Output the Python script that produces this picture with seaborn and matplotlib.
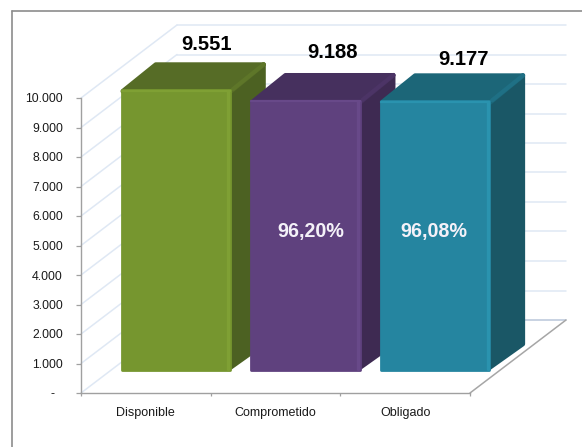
import matplotlib
matplotlib.use('Agg')
import matplotlib.pyplot as plt
from matplotlib.lines import Line2D
from matplotlib.patches import Polygon
from matplotlib.transforms import ScaledTranslation
import pandas as pd
import seaborn as sns

categories = ['Disponible', 'Comprometido', 'Obligado']
values = [9551, 9188, 9177]
value_labels = ['9.551', '9.188', '9.177']
pct_labels = ['', '96,20%', '96,08%']
y_ticks = [0, 1000, 2000, 3000, 4000, 5000, 6000, 7000, 8000, 9000, 10000]
y_tick_labels = ['-', '1.000', '2.000', '3.000', '4.000', '5.000', '6.000', '7.000', '8.000', '9.000', '10.000']

front_colors = ['#76962F', '#5F417E', '#2585A0']
top_colors = ['#566C26', '#46305E', '#1C6678']
side_colors = ['#4C6122', '#3E2A52', '#1A5766']
light_colors = ['#7FA034', '#684989', '#2A93AF']
ridge_colors = ['#5E7629', '#4C3466', '#1F7085']

W, H = 582, 447
AX_L, AX_R, AX_T, AX_B = 81, 470, 98, 393

sns.set_style('white')
plt.rcParams['font.family'] = ['Liberation Sans', 'DejaVu Sans']

df = pd.DataFrame({'cat': categories, 'val': values})

fig = plt.figure(figsize=(W / 100, H / 100), dpi=100, facecolor='white')
ax = fig.add_axes([AX_L / W, 1 - AX_B / H, (AX_R - AX_L) / W, (AX_B - AX_T) / H])
ax.patch.set_alpha(0)

# pixel steps in data units
px = 3 / (AX_R - AX_L)
py = 10000 / (AX_B - AX_T)

sns.barplot(data=df, x='cat', y='val', hue='cat', palette=front_colors, legend=False,
            width=110 * px, saturation=1, ax=ax)
ax.set_xlim(-0.5, 2.5)
ax.set_ylim(0, 10000)

# back wall, side wall and floor
wall_dx, wall_dy = 96 * px, 73 * py
grid_c = '#DFE8F4'
for t in y_ticks:
    c = '#B9C6DA' if t == 0 else grid_c
    ax.plot([-0.5 + wall_dx, 2.5 + wall_dx], [t + wall_dy, t + wall_dy], color=c, lw=1.1, clip_on=False, zorder=0.5)
    ax.plot([-0.5, -0.5 + wall_dx], [t, t + wall_dy], color=grid_c, lw=1.1, clip_on=False, zorder=0.5)
ax.plot([2.5, 2.5 + wall_dx], [0, wall_dy], color='#A6A6A6', lw=1.1, clip_on=False, zorder=0.6)

# bars are pushed into the floor, side and top faces added from the bar geometry
shift_x, shift_y = 30 * px, 22 * py
depth_x, depth_y = 35 * px, 27 * py
inset = 2.4
for i, bar in enumerate(ax.patches):
    z = 2 + i
    x0 = bar.get_x() + shift_x
    w = bar.get_width()
    y0 = shift_y
    top = y0 + bar.get_height()
    x1 = x0 + w
    bar.set_x(x0 + 1 * px)
    bar.set_y(y0 + 1 * py)
    bar.set_width(w - 2 * px)
    bar.set_height(top - y0 - 2 * py)
    bar.set_clip_on(False)
    bar.set_zorder(z + 0.2)
    bar.set_edgecolor(front_colors[i])
    bar.set_linewidth(2)
    bar.set_joinstyle('round')
    bx = x1 + depth_x - inset * px
    by = top + depth_y - inset * py
    side = [(x1 - 2 * px, y0 + inset * py), (bx, y0 + depth_y), (bx, by), (x1 - 2 * px, top - 2 * py)]
    roof = [(x0 + 2 * px, top - 2 * py), (x0 + depth_x, by), (bx, by), (x1, top - 2 * py)]
    ax.add_patch(Polygon(side, closed=True, fc=side_colors[i], ec=side_colors[i], lw=3.4, joinstyle='round', clip_on=False, zorder=z))
    ax.add_patch(Polygon(roof, closed=True, fc=top_colors[i], ec=top_colors[i], lw=3.4, joinstyle='round', clip_on=False, zorder=z + 0.1))
    # bevel highlights
    ax.plot([x0 + px, x1 - px], [top - 1.5 * py, top - 1.5 * py], color=light_colors[i], lw=1.6, clip_on=False, zorder=z + 0.3, solid_capstyle='round')
    ax.plot([x1 - 2.5 * px, x1 - 2.5 * px], [y0 + 2 * py, top - 2 * py], color=light_colors[i], lw=2.4, clip_on=False, zorder=z + 0.3)
    ax.plot([x1 + 2 * px, x1 + depth_x - 2 * px], [top, top + depth_y - 2 * py], color=ridge_colors[i], lw=3, clip_on=False, zorder=z + 0.15)

# value labels above the bars
label_offsets = [(31, 46), (27, 48), (28, 42)]
for bar, txt, off in zip(ax.patches, value_labels, label_offsets):
    cx = bar.get_x() + bar.get_width() / 2
    top = bar.get_y() + bar.get_height()
    ax.annotate(txt, (cx, top), xytext=(off[0] * 0.72, off[1] * 0.72), textcoords='offset points',
                ha='center', va='center', fontsize=14.5, fontweight='bold', color='black',
                annotation_clip=False, zorder=20)

pct_shift = [0, 5, -1]
for bar, txt, sh in zip(ax.patches, pct_labels, pct_shift):
    if txt:
        ax.text(bar.get_x() + bar.get_width() / 2 + sh * px, (AX_B - 232) * py, txt, ha='center', va='center',
                fontsize=14.2, fontweight='bold', color='#F4F1F8', zorder=20)

ax.set_xlabel('')
ax.set_ylabel('')
ax.set_yticks(y_ticks)
ax.set_yticklabels(y_tick_labels)
ax.set_xticks([-0.5, 0.5, 1.5, 2.5], minor=True)
ax.set_xticks([0, 1, 2])
ax.set_xticklabels(categories)
ax.tick_params(axis='x', which='major', length=0, pad=10, labelsize=9, colors='#1A1A1A')
ax.tick_params(axis='x', which='minor', length=2.4, width=0.9, color='#A0A0A0', bottom=True)
ax.tick_params(axis='y', length=3.6, width=0.9, color='#A0A0A0', pad=9.4, labelsize=8.8, labelcolor='#1A1A1A', left=True)
ax.get_yticklabels()[0].set_transform(ax.get_yticklabels()[0].get_transform()
                                      + ScaledTranslation(-8 / 100, 0, fig.dpi_scale_trans))
for s in ['top', 'right']:
    ax.spines[s].set_visible(False)
for s in ['left', 'bottom']:
    ax.spines[s].set_color('#A0A0A0')
    ax.spines[s].set_linewidth(1.0)
    ax.spines[s].set_zorder(1)

# outer frame, open to the right and bottom of the crop
frame_c = '#8C8C8C'
fig.add_artist(Line2D([11.5 / W, 1], [1 - 11 / H, 1 - 11 / H], color=frame_c, lw=1.2))
fig.add_artist(Line2D([11.5 / W, 11.5 / W], [0, 1 - 11 / H], color=frame_c, lw=1.2))

fig.savefig('out.png', dpi=100)
